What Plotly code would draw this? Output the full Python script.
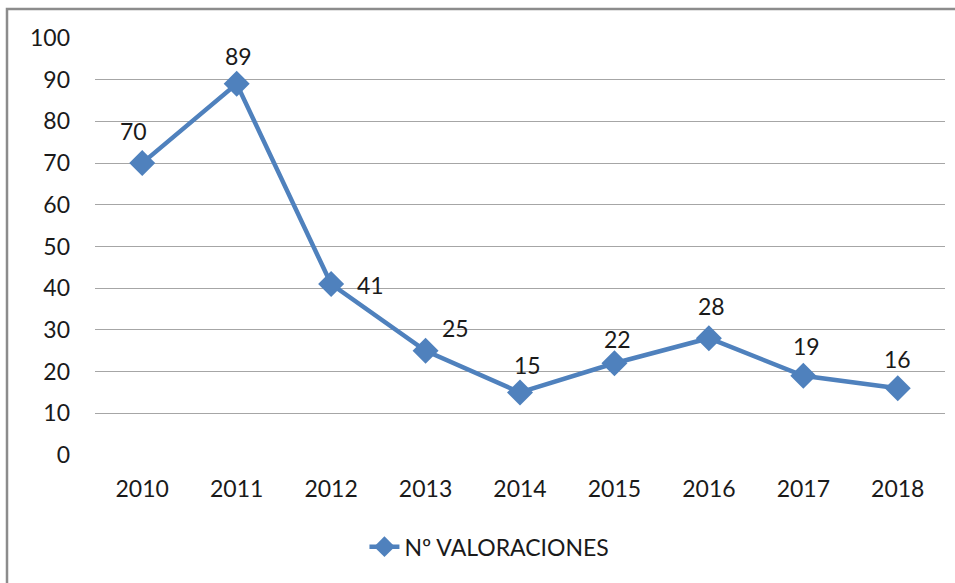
import plotly.graph_objects as go

years = ["2010", "2011", "2012", "2013", "2014", "2015", "2016", "2017", "2018"]
valoraciones = [70, 89, 41, 25, 15, 22, 28, 19, 16]
y_ticks = [0, 10, 20, 30, 40, 50, 60, 70, 80, 90, 100]

# label offsets in pixels (style only)
label_dx = [-9, 2, 39, 30, 7, 3, 3, 3, 0]
label_dy = [32, 28, -1, 23, 27, 24, 32, 30, 29]

FONT = "Lato, Calibri, Carlito, sans-serif"
BLUE = "#4F81BD"
TXT = "#1a1a1a"

fig = go.Figure()
fig.add_trace(go.Scatter(
    x=years, y=valoraciones,
    mode="lines+markers",
    name="Nº VALORACIONES",
    line=dict(color=BLUE, width=4.5),
    marker=dict(symbol="diamond", size=20, color=BLUE),
))

for i, (v, dx, dy) in enumerate(zip(valoraciones, label_dx, label_dy)):
    fig.add_annotation(x=i, y=v, text=str(v), showarrow=False,
                       xshift=dx, yshift=dy, xanchor="center", yanchor="middle",
                       font=dict(family=FONT, size=23, color=TXT))

fig.update_layout(
    width=955, height=583,
    margin=dict(l=95, r=10, t=38, b=128),
    paper_bgcolor="white", plot_bgcolor="white",
    font=dict(family=FONT, size=23, color=TXT),
    showlegend=True,
    legend=dict(orientation="h", x=0.317, y=-0.22, xanchor="left", yanchor="middle",
                font=dict(family=FONT, size=23, color=TXT)),
    xaxis=dict(type="category", range=[-0.5, 8.5], showgrid=False, zeroline=False,
               showline=False, ticks="", ticklabelstandoff=18),
    yaxis=dict(range=[0, 100], tickvals=y_ticks, showgrid=True, gridcolor="#A6A6A6",
               gridwidth=1.3, zeroline=False, showline=False, ticks="",
               ticklabelstandoff=24),
    shapes=[dict(type="rect", xref="paper", yref="paper",
                 x0=(7 - 95) / 850, x1=1.2, y0=-0.5, y1=(455 - 9) / 417,
                 line=dict(color="#8C8C8C", width=2.5), fillcolor="rgba(0,0,0,0)",
                 layer="below")],
)

fig.write_html("out.html", config={"displayModeBar": False},
               post_script="document.body.style.margin='0';document.body.style.overflow='hidden';")
